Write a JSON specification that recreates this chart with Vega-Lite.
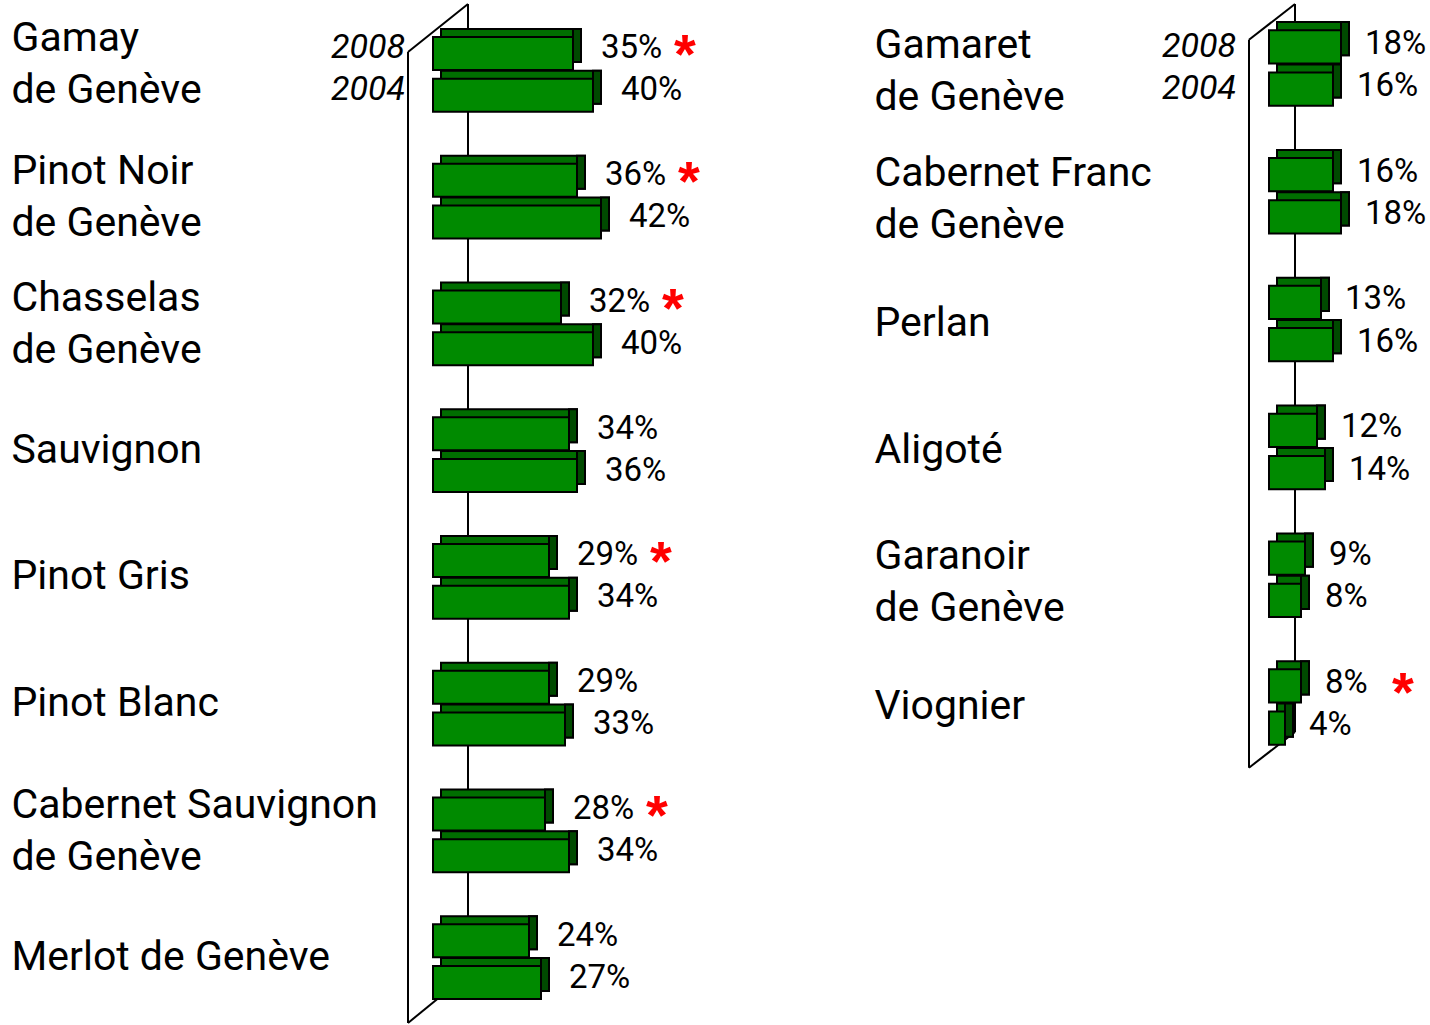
{
  "$schema": "https://vega.github.io/schema/vega-lite/v6.json",
  "padding": {"left": 11, "top": 3, "right": 0, "bottom": 0},
  "bounds": "flush",
  "spacing": 541,
  "background": "white",
  "config": {
    "view": {"stroke": null},
    "font": "Roboto",
    "text": {"font": "Roboto", "color": "black"}
  },
  "datasets": {
    "left": [
      {"wine": "Gamay\nde Genève", "year": "2008", "share": 0.35, "sig": true},
      {"wine": "Gamay\nde Genève", "year": "2004", "share": 0.40, "sig": false},
      {"wine": "Pinot Noir\nde Genève", "year": "2008", "share": 0.36, "sig": true},
      {"wine": "Pinot Noir\nde Genève", "year": "2004", "share": 0.42, "sig": false},
      {"wine": "Chasselas\nde Genève", "year": "2008", "share": 0.32, "sig": true},
      {"wine": "Chasselas\nde Genève", "year": "2004", "share": 0.40, "sig": false},
      {"wine": "Sauvignon", "year": "2008", "share": 0.34, "sig": false},
      {"wine": "Sauvignon", "year": "2004", "share": 0.36, "sig": false},
      {"wine": "Pinot Gris", "year": "2008", "share": 0.29, "sig": true},
      {"wine": "Pinot Gris", "year": "2004", "share": 0.34, "sig": false},
      {"wine": "Pinot Blanc", "year": "2008", "share": 0.29, "sig": false},
      {"wine": "Pinot Blanc", "year": "2004", "share": 0.33, "sig": false},
      {"wine": "Cabernet Sauvignon\nde Genève", "year": "2008", "share": 0.28, "sig": true},
      {"wine": "Cabernet Sauvignon\nde Genève", "year": "2004", "share": 0.34, "sig": false},
      {"wine": "Merlot de Genève", "year": "2008", "share": 0.24, "sig": false},
      {"wine": "Merlot de Genève", "year": "2004", "share": 0.27, "sig": false}
    ],
    "right": [
      {"wine": "Gamaret\nde Genève", "year": "2008", "share": 0.18, "sig": false},
      {"wine": "Gamaret\nde Genève", "year": "2004", "share": 0.16, "sig": false},
      {"wine": "Cabernet Franc\nde Genève", "year": "2008", "share": 0.16, "sig": false},
      {"wine": "Cabernet Franc\nde Genève", "year": "2004", "share": 0.18, "sig": false},
      {"wine": "Perlan", "year": "2008", "share": 0.13, "sig": false},
      {"wine": "Perlan", "year": "2004", "share": 0.16, "sig": false},
      {"wine": "Aligoté", "year": "2008", "share": 0.12, "sig": false},
      {"wine": "Aligoté", "year": "2004", "share": 0.14, "sig": false},
      {"wine": "Garanoir\nde Genève", "year": "2008", "share": 0.09, "sig": false},
      {"wine": "Garanoir\nde Genève", "year": "2004", "share": 0.08, "sig": false},
      {"wine": "Viognier", "year": "2008", "share": 0.08, "sig": true},
      {"wine": "Viognier", "year": "2004", "share": 0.04, "sig": false}
    ],
    "frameL": [
      {"fx": -0.0625, "fy": 0.048, "fx2": -0.0625, "fy2": 0.999},
      {"fx": 0.0875, "fy": 0.001, "fx2": 0.0875, "fy2": 0.951},
      {"fx": -0.0625, "fy": 0.048, "fx2": 0.0875, "fy2": 0.001},
      {"fx": -0.0625, "fy": 0.999, "fx2": 0.0875, "fy2": 0.951}
    ],
    "frameR": [
      {"fx": -0.05, "fy": 0.036, "fx2": -0.05, "fy2": 0.749},
      {"fx": 0.065, "fy": 0.001, "fx2": 0.065, "fy2": 0.714},
      {"fx": -0.05, "fy": 0.036, "fx2": 0.065, "fy2": 0.001},
      {"fx": -0.05, "fy": 0.749, "fx2": 0.065, "fy2": 0.714}
    ]
  },
  "hconcat": [
    {
      "width": 300,
      "height": 1021,
      "data": {"name": "left"},
      "resolve": {"scale": {"y": "independent", "yOffset": "independent"}},
      "layer": [
        {
          "data": {"name": "frameL"},
          "mark": {"type": "rule", "color": "black", "strokeWidth": 2},
          "encoding": {
            "x": {"field": "fx", "type": "quantitative", "scale": {"domain": [-0.0625, 0.6875], "zero": false, "nice": false}, "axis": null},
            "x2": {"field": "fx2"},
            "y": {"field": "fy", "type": "quantitative", "scale": {"domain": [0, 1], "reverse": true, "nice": false, "zero": false}, "axis": null},
            "y2": {"field": "fy2"}
          }
        },
        {
          "layer": [
            {
              "mark": {"type": "bar", "fill": "#006e00", "stroke": "black", "strokeWidth": 2, "xOffset": 8, "x2Offset": 8},
              "encoding": {
                "x": {"field": "share", "type": "quantitative", "scale": {"domain": [-0.0625, 0.6875], "zero": false, "nice": false}, "axis": null},
                "x2": {"datum": 0}
              }
            },
            {
              "mark": {"type": "bar", "fill": "#004a00", "stroke": "black", "strokeWidth": 2, "x2Offset": 8},
              "encoding": {
                "x": {"field": "share", "type": "quantitative", "axis": null},
                "x2": {"field": "share"}
              }
            }
          ],
          "encoding": {
            "y": {"field": "wine", "type": "nominal", "sort": null, "scale": {"range": [8, 1022], "paddingInner": 0, "paddingOuter": 0}, "axis": null},
            "yOffset": {"field": "year", "type": "nominal", "sort": ["2008", "2004"], "scale": {"paddingInner": 0.214, "paddingOuter": 0.619, "align": 0.346}}
          }
        },
        {
          "layer": [
            {
              "mark": {"type": "bar", "fill": "#008a00", "stroke": "black", "strokeWidth": 2},
              "encoding": {
                "x": {"field": "share", "type": "quantitative", "axis": null},
                "x2": {"datum": 0},
                "y": {
                  "field": "wine", "type": "nominal", "sort": null,
                  "scale": {"range": [8, 1022], "paddingInner": 0, "paddingOuter": 0},
                  "axis": {
                    "title": null, "domain": false, "ticks": false,
                    "labelAlign": "left", "labelBaseline": "middle", "labelPadding": 397,
                    "labelFont": "Roboto", "labelFontSize": 41, "labelColor": "black",
                    "labelLimit": 0, "labelLineHeight": 52,
                    "labelOffset": {"condition": [{"test": "indexof(datum.label, 'Gamay') == 0", "value": -35}, {"test": "indexof(datum.label, '\\n') >= 0", "value": -29}], "value": -4},
                    "labelExpr": "split(datum.label, '\\n')"
                  }
                }
              }
            },
            {
              "mark": {"type": "text", "align": "left", "baseline": "middle", "dx": 28, "dy": -5, "fontSize": 33},
              "encoding": {
                "x": {"field": "share", "type": "quantitative"},
                "text": {"field": "share", "type": "quantitative", "format": ".0%"}
              }
            },
            {
              "transform": [{"filter": "datum.sig"}],
              "mark": {"type": "text", "align": "center", "baseline": "middle", "dx": 112, "dy": 3, "fontSize": 56, "fontWeight": "bold", "font": "Liberation Sans", "color": "#ff0000", "text": "*"},
              "encoding": {
                "x": {"field": "share", "type": "quantitative"}
              }
            },
            {
              "transform": [{"filter": "indexof(datum.wine, 'Gamay') == 0"}],
              "mark": {"type": "text", "align": "right", "baseline": "middle", "dy": -5, "fontSize": 34, "fontStyle": "italic"},
              "encoding": {
                "x": {"datum": -0.07},
                "text": {"field": "year"}
              }
            }
          ],
          "encoding": {
            "y": {"field": "wine", "type": "nominal", "sort": null},
            "yOffset": {"field": "year", "type": "nominal", "sort": ["2008", "2004"], "scale": {"paddingInner": 0.214, "paddingOuter": 0.619}}
          }
        }
      ]
    },
    {
      "width": 180,
      "height": 1021,
      "data": {"name": "right"},
      "resolve": {"scale": {"y": "independent", "yOffset": "independent"}},
      "layer": [
        {
          "data": {"name": "frameR"},
          "mark": {"type": "rule", "color": "black", "strokeWidth": 2},
          "encoding": {
            "x": {"field": "fx", "type": "quantitative", "scale": {"domain": [-0.05, 0.4], "zero": false, "nice": false}, "axis": null},
            "x2": {"field": "fx2"},
            "y": {"field": "fy", "type": "quantitative", "scale": {"domain": [0, 1], "reverse": true, "nice": false, "zero": false}, "axis": null},
            "y2": {"field": "fy2"}
          }
        },
        {
          "layer": [
            {
              "mark": {"type": "bar", "fill": "#006e00", "stroke": "black", "strokeWidth": 2, "xOffset": 8, "x2Offset": 8},
              "encoding": {
                "x": {"field": "share", "type": "quantitative", "scale": {"domain": [-0.05, 0.4], "zero": false, "nice": false}, "axis": null},
                "x2": {"datum": 0}
              }
            },
            {
              "mark": {"type": "bar", "fill": "#004a00", "stroke": "black", "strokeWidth": 2, "x2Offset": 8},
              "encoding": {
                "x": {"field": "share", "type": "quantitative", "axis": null},
                "x2": {"field": "share"}
              }
            }
          ],
          "encoding": {
            "y": {"field": "wine", "type": "nominal", "sort": null, "scale": {"range": [1, 768], "paddingInner": 0, "paddingOuter": 0}, "axis": null},
            "yOffset": {"field": "year", "type": "nominal", "sort": ["2008", "2004"], "scale": {"paddingInner": 0.214, "paddingOuter": 0.619, "align": 0.346}}
          }
        },
        {
          "layer": [
            {
              "mark": {"type": "bar", "fill": "#008a00", "stroke": "black", "strokeWidth": 2},
              "encoding": {
                "x": {"field": "share", "type": "quantitative", "axis": null},
                "x2": {"datum": 0},
                "y": {
                  "field": "wine", "type": "nominal", "sort": null,
                  "scale": {"range": [1, 768], "paddingInner": 0, "paddingOuter": 0},
                  "axis": {
                    "title": null, "domain": false, "ticks": false,
                    "labelAlign": "left", "labelBaseline": "middle", "labelPadding": 375,
                    "labelFont": "Roboto", "labelFontSize": 41, "labelColor": "black",
                    "labelLimit": 0, "labelLineHeight": 52,
                    "labelOffset": {"condition": {"test": "indexof(datum.label, '\\n') >= 0", "value": -22}, "value": 0},
                    "labelExpr": "split(datum.label, '\\n')"
                  }
                }
              }
            },
            {
              "mark": {"type": "text", "align": "left", "baseline": "middle", "dx": 24, "dy": -3, "fontSize": 33},
              "encoding": {
                "x": {"field": "share", "type": "quantitative"},
                "text": {"field": "share", "type": "quantitative", "format": ".0%"}
              }
            },
            {
              "transform": [{"filter": "datum.sig"}],
              "mark": {"type": "text", "align": "center", "baseline": "middle", "dx": 102, "dy": 8, "fontSize": 56, "fontWeight": "bold", "font": "Liberation Sans", "color": "#ff0000", "text": "*"},
              "encoding": {
                "x": {"field": "share", "type": "quantitative"}
              }
            },
            {
              "transform": [{"filter": "indexof(datum.wine, 'Gamaret') == 0"}],
              "mark": {"type": "text", "align": "right", "baseline": "middle", "dy": 0, "fontSize": 34, "fontStyle": "italic"},
              "encoding": {
                "x": {"datum": -0.0825},
                "text": {"field": "year"}
              }
            }
          ],
          "encoding": {
            "y": {"field": "wine", "type": "nominal", "sort": null},
            "yOffset": {"field": "year", "type": "nominal", "sort": ["2008", "2004"], "scale": {"paddingInner": 0.214, "paddingOuter": 0.619}}
          }
        }
      ]
    }
  ]
}
